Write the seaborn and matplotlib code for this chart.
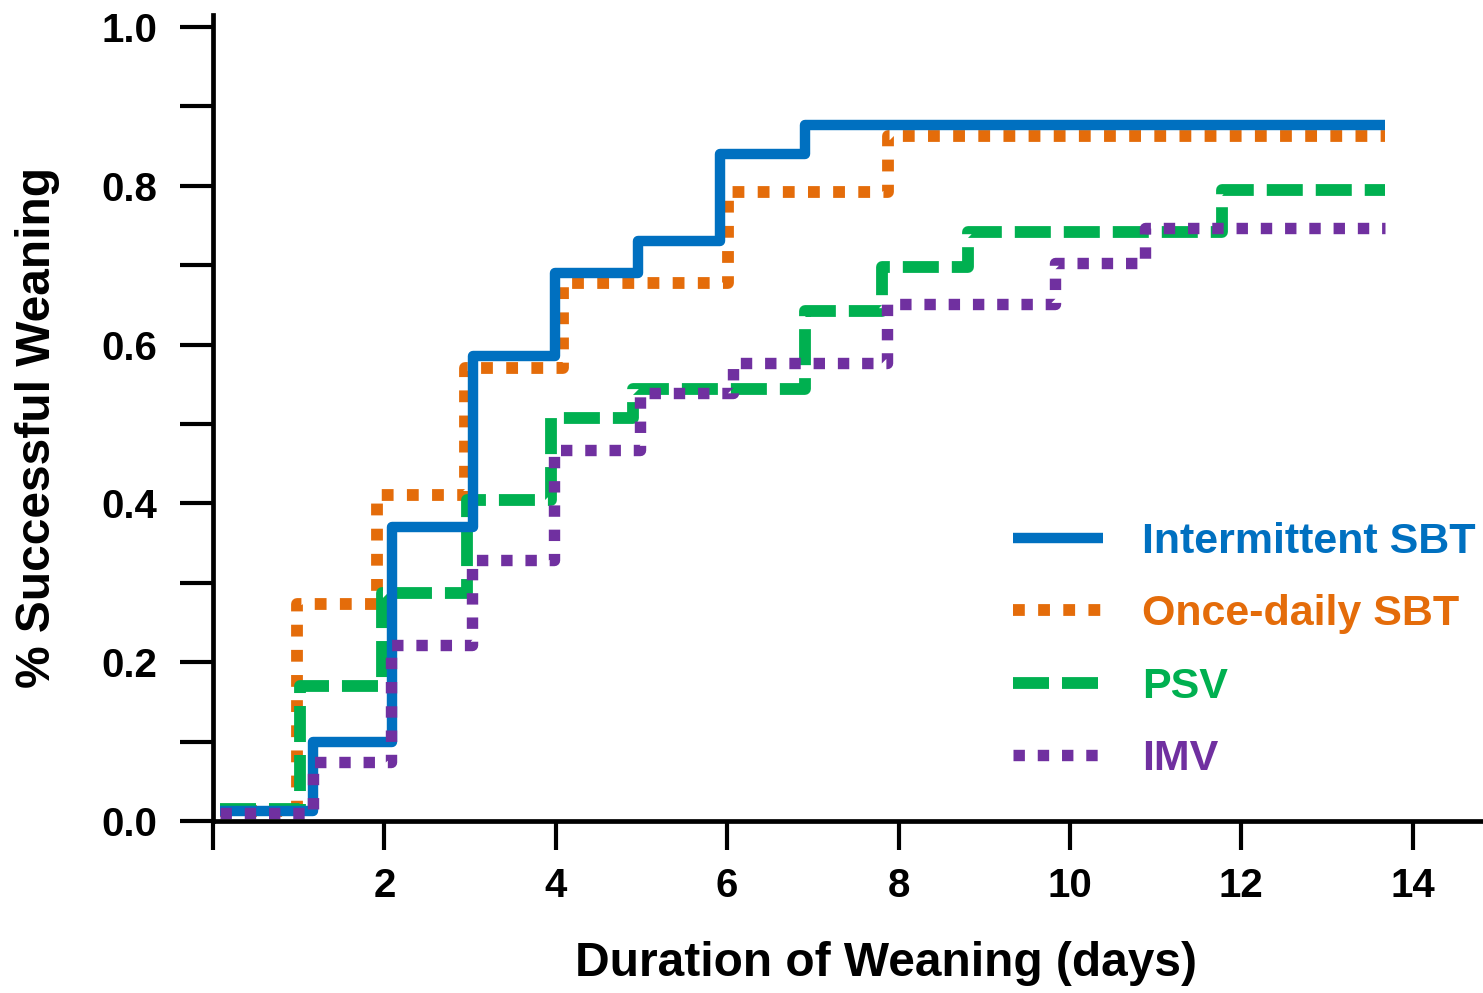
import numpy as np
import pandas as pd
import matplotlib
matplotlib.use("Agg")
import matplotlib.pyplot as plt
import seaborn as sns
from matplotlib import font_manager

# ---------------- data ----------------
series_names = ["Intermittent SBT", "Once-daily SBT", "PSV", "IMV"]

int_sbt_days = [0.08, 1.17, 2.09, 3.03, 3.99, 4.96, 5.92, 6.91, 13.68]
int_sbt_vals = [0.012, 0.10, 0.37, 0.585, 0.69, 0.73, 0.84, 0.877, 0.877]

once_sbt_days = [0.08, 0.98, 1.91, 2.94, 4.08, 6.01, 7.88, 13.68]
once_sbt_vals = [0.012, 0.273, 0.41, 0.57, 0.678, 0.792, 0.863, 0.863]

psv_days = [0.08, 1.02, 1.97, 2.96, 3.94, 4.90, 6.91, 7.81, 8.81, 11.77, 13.68]
psv_vals = [0.015, 0.17, 0.287, 0.404, 0.508, 0.544, 0.642, 0.698, 0.742, 0.795, 0.795]

imv_days = [0.08, 1.17, 2.08, 3.02, 3.98, 4.98, 6.07, 7.87, 9.83, 10.88, 13.68]
imv_vals = [0.01, 0.074, 0.222, 0.329, 0.467, 0.539, 0.577, 0.651, 0.703, 0.747, 0.747]

x_ticks = [0, 2, 4, 6, 8, 10, 12, 14]
x_tick_labels = ["", "2", "4", "6", "8", "10", "12", "14"]
y_major = [0.0, 0.2, 0.4, 0.6, 0.8, 1.0]
y_minor = [0.1, 0.3, 0.5, 0.7, 0.9]

# ---------------- style ----------------
sns.set_style("ticks")
plt.rcParams["font.family"] = ["Liberation Sans", "DejaVu Sans"]
plt.rcParams["font.weight"] = "bold"
plt.rcParams["text.color"] = "black"
plt.rcParams["axes.labelcolor"] = "black"
plt.rcParams["xtick.color"] = "black"
plt.rcParams["ytick.color"] = "black"

names = {f.name for f in font_manager.fontManager.ttflist}
if "Liberation Sans Narrow" in names:
    label_font = dict(family=["Liberation Sans Narrow", "DejaVu Sans"], size=41.5, weight="bold")
else:
    label_font = dict(family=["Liberation Sans", "DejaVu Sans"], size=34.5, weight="bold")

colors = {
    "Intermittent SBT": "#0070C0",
    "Once-daily SBT": "#E46C0A",
    "PSV": "#00B050",
    "IMV": "#7030A0",
}
styles = {
    "Intermittent SBT": dict(lw=7.5, linestyle="-"),
    "Once-daily SBT": dict(lw=8.5, linestyle=(0, (1.0, 1.13))),
    "PSV": dict(lw=8.5, linestyle=(0, (3.05, 1.1))),
    "IMV": dict(lw=8.2, linestyle=(0, (1.0, 1.13))),
}
data = {
    "Intermittent SBT": (int_sbt_days, int_sbt_vals),
    "Once-daily SBT": (once_sbt_days, once_sbt_vals),
    "PSV": (psv_days, psv_vals),
    "IMV": (imv_days, imv_vals),
}

fig = plt.figure(figsize=(14.83, 9.93), dpi=100)
ax = fig.add_axes([213 / 1483, (993 - 821) / 993, 1270 / 1483, 806 / 993])

draw_order = ["Once-daily SBT", "PSV", "Intermittent SBT", "IMV"]
handles = {}
for name in draw_order:
    xs, ys = data[name]
    df = pd.DataFrame({"days": xs, "rate": ys})
    n_before = len(ax.lines)
    sns.lineplot(data=df, x="days", y="rate", ax=ax, color=colors[name],
                 drawstyle="steps-post", estimator=None, sort=False,
                 solid_joinstyle="round", solid_capstyle="butt",
                 dash_capstyle="butt", dash_joinstyle="round",
                 label=name, **styles[name])
    handles[name] = ax.lines[n_before]

ax.set_xlim(0, 14.82)
ax.set_ylim(0, 1.015)

ax.set_xticks(x_ticks)
ax.set_xticklabels(x_tick_labels)
ax.set_yticks(y_major)
ax.set_yticklabels([f"{v:.1f}" for v in y_major])
ax.set_yticks(y_minor, minor=True)

for lab in ax.get_xticklabels() + ax.get_yticklabels():
    lab.set_fontweight("bold")
    lab.set_fontsize(29)
    lab.set_color("black")

ax.tick_params(axis="y", which="both", direction="out", length=24, width=3, pad=16, colors="black")
ax.tick_params(axis="x", which="both", direction="out", length=21, width=3, pad=12, colors="black")

for side in ["top", "right"]:
    ax.spines[side].set_visible(False)
for side in ["left", "bottom"]:
    ax.spines[side].set_linewidth(3.4)
    ax.spines[side].set_color("black")

ax.set_xlabel("Duration of Weaning (days)", color="black", **label_font)
ax.set_ylabel("% Successful Weaning", color="black", **label_font)
ax.xaxis.label.set_va("center")
ax.xaxis.set_label_coords((886 - 213) / 1270, (821 - 964) / 806)
ax.yaxis.label.set_va("center")
ax.yaxis.label.set_ha("center")
ax.yaxis.set_label_coords((38 - 213) / 1270, (821 - 428) / 806)

leg = ax.legend([handles[n] for n in series_names], series_names,
                loc="upper left", bbox_to_anchor=((1013 - 213) / 1270, (821 - 522) / 806),
                frameon=False, borderpad=0, borderaxespad=0,
                handlelength=2.1, handletextpad=0.9, labelspacing=0.75,
                prop=dict(family=["Liberation Sans", "DejaVu Sans"], size=31, weight="bold"),
                labelcolor="linecolor")

fig.savefig("out.png", dpi=100)
